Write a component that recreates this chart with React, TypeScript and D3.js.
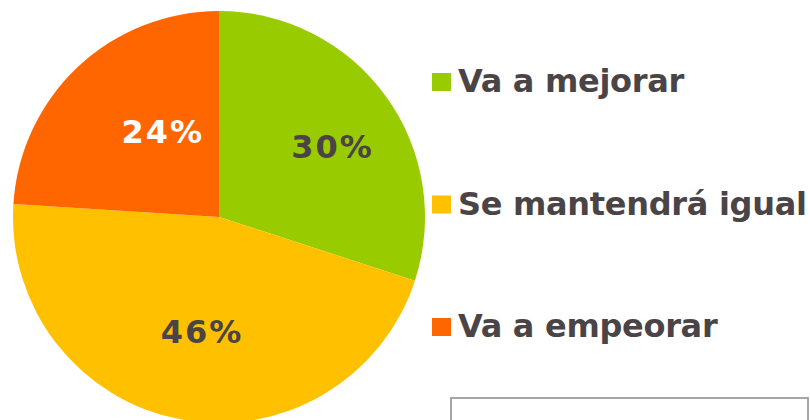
import React from "react";
import * as d3 from "d3";

const categories = ["Va a mejorar", "Se mantendrá igual", "Va a empeorar"];
const values = [30, 46, 24];
const colors = ["#99cc00", "#ffc000", "#ff6600"];
const labelColors = ["#4a4446", "#4a4446", "#ffffff"];
// label placement tweaks (radius in px, angle offset in degrees)
const labelPlacement = [
  { r: 134, da: 4 },
  { r: 116, da: -2.4 },
  { r: 102, da: 9.8 },
];

export default function App() {
  const W = 810, H = 420;
  const cx = 219, cy = 217, R = 206;
  const pie = d3.pie<number>().sort(null).value((d) => d);
  const arcs = pie(values);
  const arc = d3.arc<d3.PieArcDatum<number>>().innerRadius(0).outerRadius(R);
  const textColor = "#4a4446";
  const font = "'DejaVu Sans', Verdana, sans-serif";
  const legendY = d3.scalePoint<string>().domain(categories).range([92, 337]);

  return (
    <svg width={W} height={H} style={{ position: "absolute", left: 0, top: 0 }}>
      <rect width={W} height={H} fill="#ffffff" />
      <g transform={`translate(${cx},${cy})`}>
        {arcs.map((a, i) => (
          <path key={i} d={arc(a) || ""} fill={colors[i]} />
        ))}
        {arcs.map((a, i) => {
          const mid = (a.startAngle + a.endAngle) / 2 + (labelPlacement[i].da * Math.PI) / 180;
          const r = labelPlacement[i].r;
          const x = Math.sin(mid) * r;
          const y = -Math.cos(mid) * r;
          return (
            <text
              key={i}
              x={x}
              y={y + 11.5}
              textAnchor="middle"
              fontFamily={font}
              fontWeight="bold"
              fontSize={32}
              letterSpacing={2}
              fill={labelColors[i]}
            >
              {values[i]}%
            </text>
          );
        })}
      </g>
      {categories.map((c, i) => {
        const by = legendY(c) as number;
        return (
          <g key={c}>
            <rect x={432} y={by - 19} width={19} height={18} fill={colors[i]} />
            <text x={458} y={by} fontFamily={font} fontWeight="bold" fontSize={32} letterSpacing={-0.3} fill={textColor}>
              {c}
            </text>
          </g>
        );
      })}
      <rect x={451} y={398} width={357} height={40} fill="none" stroke="#a6a6a6" strokeWidth={2} />
    </svg>
  );
}
